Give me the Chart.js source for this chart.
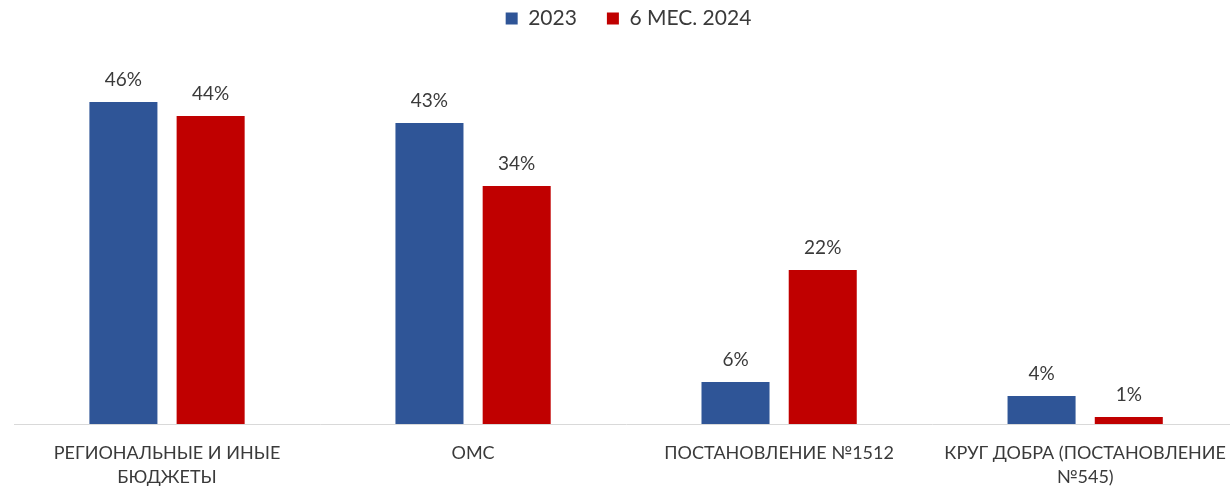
<!DOCTYPE html>
<html>
<head>
<meta charset="utf-8">
<script src="https://cdn.jsdelivr.net/npm/chart.js@4/dist/chart.umd.min.js"></script>
<style>
  html, body { margin: 0; padding: 0; background: #fff; overflow: hidden; }
  #wrap { width: 1243px; height: 489px; }
</style>
</head>
<body>
<div id="wrap"><canvas id="chart"></canvas></div>
<script>
'use strict';

/*--- data ---*/
var categories = [
  ['РЕГИОНАЛЬНЫЕ И ИНЫЕ', 'БЮДЖЕТЫ'],
  'ОМС',
  'ПОСТАНОВЛЕНИЕ №1512',
  ['КРУГ ДОБРА (ПОСТАНОВЛЕНИЕ', '№545)']
];
var series2023 = [46, 43, 6, 4];
var series2024 = [44, 34, 22, 1];
var seriesNames = ['2023', '6 МЕС. 2024'];

var textColor = '#3a3a3a';
var font = 'Lato, "Open Sans", sans-serif';

/*--- value labels over bars ---*/
var barLabels = {
  id: 'barLabels',
  afterDatasetsDraw: function (chart) {
    var ctx = chart.ctx;
    ctx.save();
    ctx.font = '19px ' + font;
    ctx.fillStyle = textColor;
    ctx.textAlign = 'center';
    ctx.textBaseline = 'bottom';
    chart.data.datasets.forEach(function (ds, i) {
      chart.getDatasetMeta(i).data.forEach(function (bar, j) {
        ctx.fillText(ds.data[j] + '%', bar.x, bar.y - 13);
      });
    });
    ctx.restore();
  }
};

new Chart(document.getElementById('chart'), {
  type: 'bar',
  data: {
    labels: categories,
    datasets: [
      { label: seriesNames[0], data: series2023, backgroundColor: '#2F5597' },
      { label: seriesNames[1], data: series2024, backgroundColor: '#C00000' }
    ]
  },
  options: {
    responsive: true,
    maintainAspectRatio: false,
    animation: false,
    layout: { padding: { left: 14, right: 0, top: -22, bottom: -17 } },
    categoryPercentage: 0.57,
    barPercentage: 0.78,
    plugins: {
      legend: {
        position: 'top',
        labels: {
          color: textColor,
          font: { size: 21, family: font },
          boxWidth: 12,
          boxHeight: 12,
          padding: 30
        }
      },
      tooltip: { enabled: false }
    },
    scales: {
      x: {
        grid: { display: false, drawTicks: false },
        border: { color: '#d9d9d9', width: 1 },
        ticks: {
          color: textColor,
          font: { size: 18, family: font, lineHeight: 1.33 },
          maxRotation: 0,
          autoSkip: false,
          padding: 17
        }
      },
      y: {
        display: false,
        min: 0,
        max: 55
      }
    }
  },
  plugins: [barLabels]
});
</script>
</body>
</html>
